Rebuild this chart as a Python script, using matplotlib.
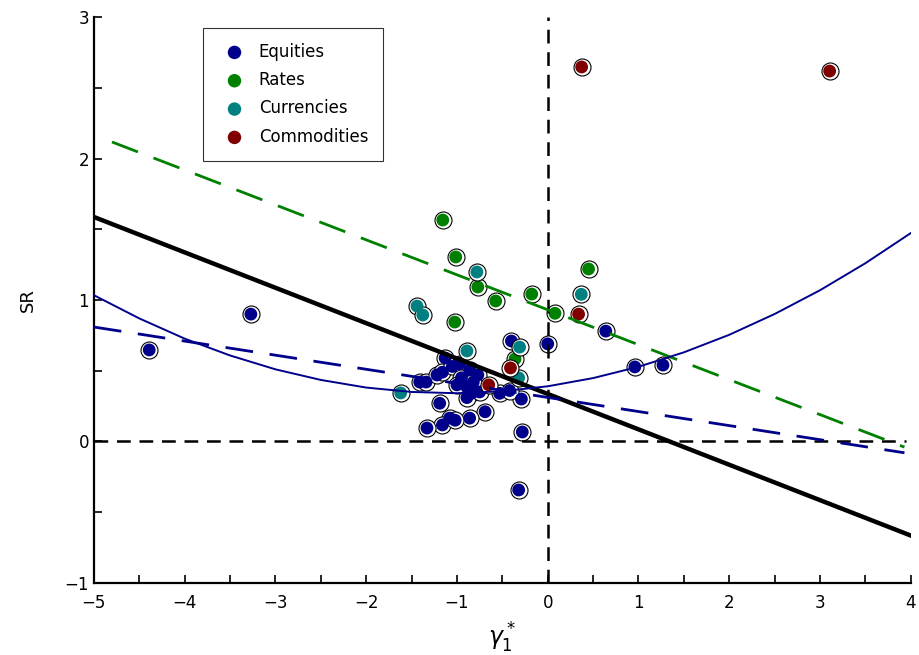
import numpy as np
import matplotlib
matplotlib.use('Agg')
import matplotlib.pyplot as plt
from matplotlib.ticker import MultipleLocator

#%% datos
eq_x = [-4.39, -3.27, 1.27, 0.96, 0.64, 0.00, -0.32, -0.28, -0.29, -0.40,
        -1.13, -1.41, -1.34, -1.22, -1.16, -1.05, -0.97, -0.86, -0.77, -0.89,
        -0.84, -0.89, -0.75, -0.53, -0.42, -1.19, -0.69, -0.86, -1.08, -1.16,
        -1.02, -1.33, -0.95, -1.00, -0.82]
eq_y = [0.647, 0.90, 0.54, 0.527, 0.78, 0.69, -0.343, 0.067, 0.30, 0.71,
        0.59, 0.42, 0.42, 0.47, 0.49, 0.53, 0.55, 0.505, 0.47, 0.385,
        0.34, 0.31, 0.35, 0.34, 0.36, 0.27, 0.21, 0.165, 0.165, 0.117,
        0.15, 0.095, 0.45, 0.40, 0.42]

rt_x = [-1.156, -1.013, -0.77, -0.573, -0.176, 0.45, 0.08, -1.024, -0.36]
rt_y = [1.565, 1.304, 1.092, 0.993, 1.042, 1.219, 0.906, 0.844, 0.583]

fx_x = [-0.78, 0.37, -1.44, -1.376, -0.31, -0.32, -0.89, -1.62]
fx_y = [1.198, 1.04, 0.957, 0.894, 0.667, 0.45, 0.64, 0.343]

cm_x = [0.374, 3.106, 0.34, -0.41, -0.65]
cm_y = [2.647, 2.618, 0.90, 0.52, 0.40]

# rectas ajustadas (extremos)
all_x, all_y = [-5.0, 4.0], [1.587, -0.665]
rt_fit_x, rt_fit_y = [-4.8, 3.93], [2.117, -0.04]
eq_fit_x, eq_fit_y = [-5.0, 3.93], [0.809, -0.08]
# curva cuadratica de equities
eq_q_x = [-5, -4.5, -4, -3.5, -3, -2.5, -2, -1.5, -1, -0.5, 0, 0.5, 1, 1.5,
          2, 2.5, 3, 3.5, 4]
eq_q_y = [1.034, 0.870, 0.727, 0.608, 0.510, 0.435, 0.381, 0.350, 0.341,
          0.355, 0.390, 0.448, 0.528, 0.630, 0.754, 0.901, 1.069, 1.260, 1.473]

groups = [('Equities', eq_x, eq_y, '#00008b'),
          ('Rates', rt_x, rt_y, '#008000'),
          ('Currencies', fx_x, fx_y, '#008080'),
          ('Commodities', cm_x, cm_y, '#800000')]

#%% figura
plt.rcParams['font.family'] = 'DejaVu Sans'
fig = plt.figure(figsize=(9.2, 6.55), dpi=100)
ax = fig.add_axes([0.102, 0.110, 0.888, 0.864])

z = 2
for name, xs, ys, col in groups:
    ax.scatter(xs, ys, s=150, c='white', edgecolors='black', linewidths=0.8, zorder=z)
    ax.scatter(xs, ys, s=85, c=col, edgecolors='none', zorder=z + 0.5, label=name)
    z += 1

ax.plot([-5, 3.95], [0, 0], 'k', ls=(0, (5.5, 3.5)), lw=1.8, zorder=10)
ax.plot([0, 0], [-1, 3], 'k', ls=(0, (5.5, 3.5)), lw=1.8, zorder=10)
ax.plot(all_x, all_y, 'k-', lw=3.2, zorder=11)
ax.plot(rt_fit_x, rt_fit_y, color='#008000', ls=(0, (10, 6)), lw=2, zorder=11)
ax.plot(eq_fit_x, eq_fit_y, color='#00008b', ls=(0, (10, 6)), lw=2, zorder=11)
ax.plot(eq_q_x, eq_q_y, color='#00008b', lw=1.4, zorder=11)

ax.set_xlim(-5, 4)
ax.set_ylim(-1, 3)
ax.xaxis.set_major_locator(MultipleLocator(1))
ax.xaxis.set_minor_locator(MultipleLocator(0.5))
ax.yaxis.set_major_locator(MultipleLocator(1))
ax.yaxis.set_minor_locator(MultipleLocator(0.5))
ax.tick_params(which='both', direction='in', length=6, width=1.2, labelsize=12)
ax.tick_params(axis='x', pad=8)
ax.spines['top'].set_visible(False)
ax.spines['right'].set_visible(False)
ax.spines['left'].set_linewidth(1.6)
ax.spines['bottom'].set_linewidth(1.6)

ax.set_xlabel(r'$\gamma_1^*$', fontsize=17, labelpad=6)
ax.set_ylabel('SR', fontsize=13, labelpad=20)

leg = ax.legend(loc='upper left', bbox_to_anchor=(0.1334, 0.981), borderaxespad=0,
                fontsize=12, frameon=True, fancybox=False, edgecolor='black',
                handletextpad=0.45, labelspacing=0.62, borderpad=0.9,
                markerscale=1.05, scatterpoints=1)
leg.get_frame().set_linewidth(0.8)

fig.savefig('out.png', dpi=100)
